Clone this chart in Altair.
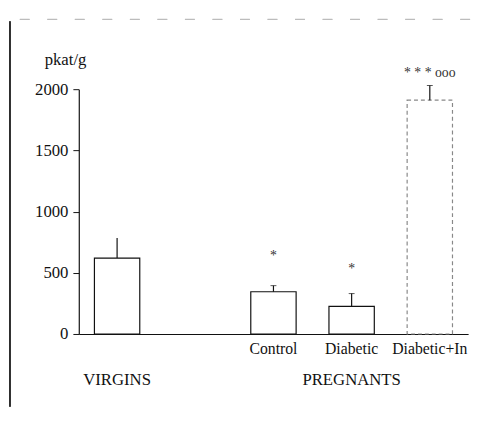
import altair as alt
import pandas as pd

slots = ["Virgins", "gap", "Control", "Diabetic", "Diabetic+In"]
groups = ["Virgins", "Control", "Diabetic", "Diabetic+In"]
means = [620, 345, 225, 1910]
errors = [165, 50, 105, 120]
signif = ["", "*", "*", "* * *  ooo"]
signif_y = [None, 635, 530, 2130]
group_labels = ["VIRGINS", "PREGNANTS"]
group_at = ["Virgins", "Diabetic"]
y_ticks = [0, 500, 1000, 1500, 2000]

FONT = "Liberation Serif"

df = pd.DataFrame({
    "group": groups,
    "mean": means,
    "top": [m + e for m, e in zip(means, errors)],
    "signif": signif,
    "signif_y": signif_y,
    "dashed": [False, False, False, True],
})
gdf = pd.DataFrame({"label": group_labels, "group": group_at})

xscale = alt.Scale(domain=slots, paddingInner=0.42, paddingOuter=0.2)
xenc = alt.X(
    "group:N", scale=xscale, title=None,
    axis=alt.Axis(
        labelExpr="datum.value == 'Virgins' || datum.value == 'gap' ? '' : datum.value",
        labelAngle=0, ticks=False, labelPadding=7, labelFont=FONT, labelFontSize=16,
        labelColor="#111", domainColor="#111", domainWidth=1.2,
    ),
)
yscale = alt.Scale(domain=[0, 2000], nice=False)
yenc = alt.Y(
    "mean:Q", scale=yscale,
    axis=alt.Axis(
        values=y_ticks, format="d", grid=False, tickSize=6, tickColor="#111",
        domainColor="#111", domainWidth=1.2, labelFont=FONT, labelFontSize=17,
        labelColor="#111", labelPadding=5, title="pkat/g", titleAngle=0,
        titleFont=FONT, titleFontSize=17, titleFontWeight="normal", titleColor="#111",
        titleX=-14, titleY=-30, titleAlign="center", titleBaseline="middle",
    ),
)

base = alt.Chart(df)

bars_solid = base.transform_filter("!datum.dashed").mark_bar(
    fill="white", stroke="#111", strokeWidth=1.2
).encode(x=xenc, y=yenc)

bars_dash = base.transform_filter("datum.dashed").mark_bar(
    fill="white", stroke="#888", strokeWidth=1.2, strokeDash=[4, 3]
).encode(x=xenc, y=yenc)

err = base.mark_rule(stroke="#111", strokeWidth=1.2).encode(
    x=alt.X("group:N", scale=xscale), y=alt.Y("mean:Q", scale=yscale), y2="top:Q"
)
caps = base.transform_filter("datum.group != 'Virgins'").mark_tick(
    color="#111", thickness=1, size=6, orient="horizontal"
).encode(x=alt.X("group:N", scale=xscale), y=alt.Y("top:Q", scale=yscale))

stars = base.transform_filter("datum.signif != ''").mark_text(
    font=FONT, fontSize=14, color="#333", fill="#333", baseline="middle"
).encode(x=alt.X("group:N", scale=xscale), y=alt.Y("signif_y:Q", scale=yscale), text="signif:N")

glabels = alt.Chart(gdf).mark_text(
    font=FONT, fontSize=17, color="#111", fill="#111", baseline="middle"
).encode(x=alt.X("group:N", scale=xscale), y=alt.value(296), text="label:N")

frame_left = alt.Chart(gdf).mark_rule(stroke="#222", strokeWidth=1.5).encode(
    x=alt.value(-70), y=alt.value(-69), y2=alt.value(323)
)
frame_top = alt.Chart(gdf).mark_rule(stroke="#bbb", strokeWidth=1, strokeDash=[10, 18]).encode(
    x=alt.value(-60), x2=alt.value(400), y=alt.value(-71)
)

chart = alt.layer(
    frame_left, frame_top, bars_solid, bars_dash, err, caps, stars, glabels
).properties(
    width=396, height=249,
    autosize=alt.AutoSizeParams(type="none"),
    padding={"left": 72, "top": 79, "right": 7, "bottom": 89},
).configure(background="white").configure_view(stroke=None)

chart.save("out.html", embed_options={"renderer": "svg", "actions": False})
